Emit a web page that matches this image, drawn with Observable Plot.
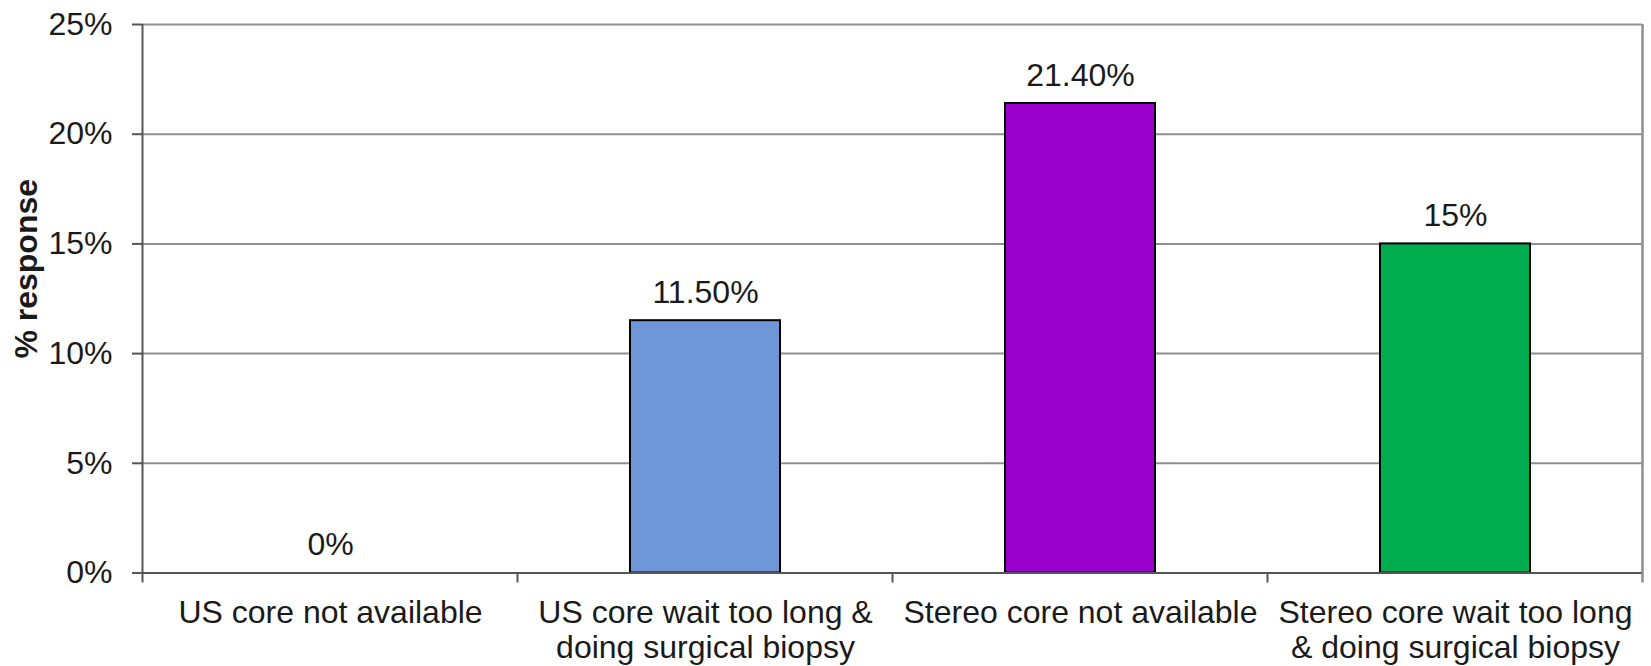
<!DOCTYPE html>
<html><head><meta charset="utf-8">
<script src="https://cdn.jsdelivr.net/npm/d3@7"></script>
<script src="https://cdn.jsdelivr.net/npm/@observablehq/plot@0.6"></script>
<style>body{margin:0;background:#fff} svg{display:block}</style>
</head><body><div id="chart"></div>
<script>
const categories = ["US core not available", "US core wait too long & doing surgical biopsy", "Stereo core not available", "Stereo core wait too long & doing surgical biopsy"];
const categoryLabels = ["US core not available", "US core wait too long &\ndoing surgical biopsy", "Stereo core not available", "Stereo core wait too long\n& doing surgical biopsy"];
const values = [0, 11.5, 21.4, 15];
const valueLabels = ["0%", "11.50%", "21.40%", "15%"];
const barColors = ["#6f97d7", "#6f97d7", "#9900cc", "#00ad4f"];
const yTicks = [0, 5, 10, 15, 20, 25];
const yTitle = "% response";

const data = categories.map((c, i) => ({category: c, value: values[i], label: valueLabels[i], color: barColors[i]}));
const labelOf = new Map(categories.map((c, i) => [c, categoryLabels[i]]));

const axisColor = "#555";
const gridColor = "#8f8f8f";

function frameLines(index, scales, values, dims) {
  const x = scales.x, y = scales.y;
  const bw = typeof x.bandwidth === "function" ? x.bandwidth() : scales.scales.x.bandwidth;
  const st = typeof x.step === "function" ? x.step() : scales.scales.x.step;
  const gap = (st - bw) / 2;
  const bounds = categories.map(c => x(c) - gap);
  bounds.push(x(categories[categories.length - 1]) + bw + gap);
  const y0 = y(0), yTop = y(25);
  const g = d3.create("svg:g");
  g.selectAll("line.t").data(bounds.slice(1, -1)).join("line")
    .attr("x1", d => d).attr("x2", d => d).attr("y1", y0).attr("y2", y0 + 10)
    .attr("stroke", axisColor).attr("stroke-width", 2);
  g.append("line").attr("x1", bounds[bounds.length - 1]).attr("x2", bounds[bounds.length - 1])
    .attr("y1", yTop).attr("y2", y0 + 10).attr("stroke", gridColor).attr("stroke-width", 2.5);
  g.append("line").attr("x1", bounds[0]).attr("x2", bounds[0])
    .attr("y1", yTop).attr("y2", y0 + 10).attr("stroke", axisColor).attr("stroke-width", 2);
  return g.node();
}

const chart = Plot.plot({
  width: 1651,
  height: 666,
  marginLeft: 142,
  marginRight: 9,
  marginTop: 24,
  marginBottom: 93.5,
  style: {fontFamily: "'Liberation Sans', Arial, sans-serif", fontSize: "32px", color: "#1a1a1a", background: "#fff"},
  x: {domain: categories, paddingInner: 0.6, paddingOuter: 0.3, label: null},
  y: {domain: [0, 25], label: null},
  marks: [
    Plot.ruleY(yTicks.filter(d => d > 0), {stroke: gridColor, strokeWidth: 2}),
    Plot.barY(data, {filter: d => d.value > 0, x: "category", y: "value", fill: "color", stroke: "#000", strokeWidth: 2}),
    Plot.ruleY([0], {stroke: axisColor, strokeWidth: 2}),
    frameLines,
    Plot.axisY({ticks: yTicks, tickFormat: d => d + "%", tickSize: 10, tickPadding: 20, stroke: axisColor, strokeWidth: 2, label: null}),
    Plot.axisX({tickSize: 0, tickPadding: 25, tickFormat: d => labelOf.get(d), lineHeight: 1.09, label: null}),
    Plot.text(data, {x: "category", y: "value", text: "label", dy: -28, fill: "#1a1a1a"}),
    Plot.text([yTitle], {frameAnchor: "left", textAnchor: "middle", rotate: -90, dx: -116, dy: -30, fontWeight: "bold", fill: "#1a1a1a"})
  ]
});
document.getElementById("chart").appendChild(chart);
</script>
</body></html>
